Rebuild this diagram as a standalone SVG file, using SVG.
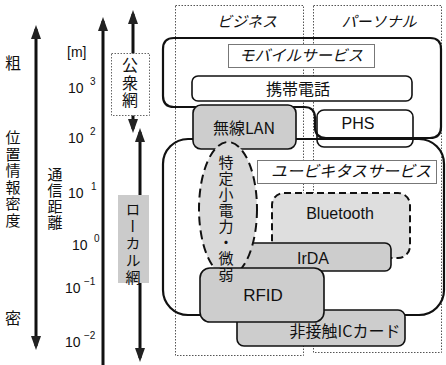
<svg xmlns="http://www.w3.org/2000/svg" width="446" height="365" viewBox="0 0 446 365">
<style>
.jp{font-family:"Noto Sans CJK JP","Noto Sans",sans-serif;fill:#111}
.it{font-style:italic}
.lat{font-family:"Liberation Sans","Noto Sans",sans-serif;fill:#111}
.v{writing-mode:vertical-rl;font-family:"Noto Sans CJK JP",sans-serif;fill:#111}
.col{fill:none;stroke:#555;stroke-width:1;stroke-dasharray:1.5 1.5}
.out{fill:none;stroke:#111;stroke-width:2.2}
.box{stroke:#111;stroke-width:1.6}
.lbl{fill:#fff;stroke:#777;stroke-width:1}
.gray{fill:#cdcdcd}
.ax{stroke:#111;stroke-width:3;fill:none}
</style>
<defs>
<marker id="ah" viewBox="0 0 14 10" refX="10" refY="5" markerWidth="14" markerHeight="10" markerUnits="userSpaceOnUse" orient="auto-start-reverse">
<path d="M0,0 L14,5 L0,10 Z" fill="#222"/>
</marker>
</defs>
<rect width="446" height="365" fill="#fff"/>

<g id="columns">
<rect class="col" x="175.5" y="5.5" width="128" height="350"/>
<rect class="col" x="313.5" y="5.5" width="128" height="347"/>
<text class="jp it" x="247" y="27" font-size="15" text-anchor="middle">ビジネス</text>
<text class="jp it" x="379" y="27" font-size="15" text-anchor="middle">パーソナル</text>
</g>

<g id="axes">
<text class="jp" x="13" y="69" font-size="16" text-anchor="middle">粗</text>
<text class="v" x="13" y="130" font-size="15" style="letter-spacing:1.5px">位置情報密度</text>
<text class="jp" x="13" y="324" font-size="16" text-anchor="middle">密</text>
<line class="ax" x1="36" y1="29" x2="36" y2="346" marker-start="url(#ah)" marker-end="url(#ah)"/>
<text class="v" x="55" y="167" font-size="15" style="letter-spacing:1px">通信距離</text>
<line class="ax" x1="103" y1="21" x2="103" y2="365" marker-start="url(#ah)"/>
<text class="lat" x="67" y="57" font-size="14">[m]</text>
<text class="lat" x="68" y="93" font-size="14">10</text><text class="lat" x="90" y="85" font-size="10">3</text>
<text class="lat" x="68" y="143" font-size="14">10</text><text class="lat" x="90" y="135" font-size="10">2</text>
<text class="lat" x="68" y="198" font-size="14">10</text><text class="lat" x="91" y="190" font-size="10">1</text>
<text class="lat" x="72" y="250" font-size="14">10</text><text class="lat" x="94" y="242" font-size="10">0</text>
<text class="lat" x="65" y="293" font-size="14">10</text><text class="lat" x="84" y="285" font-size="10">−1</text>
<text class="lat" x="65" y="347" font-size="14">10</text><text class="lat" x="84" y="339" font-size="10">−2</text>
</g>

<g id="networks">
<line class="ax" x1="133" y1="14" x2="133" y2="129" marker-start="url(#ah)" marker-end="url(#ah)"/>
<line class="ax" x1="140" y1="132" x2="140" y2="358" marker-start="url(#ah)" marker-end="url(#ah)"/>
<g id="public-net">
<rect x="111.5" y="53.5" width="38" height="62" fill="#fff" stroke="#666" stroke-width="1" stroke-dasharray="1.5 1.5"/>
<text class="v" x="130" y="57" font-size="16" style="letter-spacing:1.5px">公衆網</text>
</g>
<g id="local-net">
<rect x="118" y="195" width="31" height="88" fill="#cbcbcb"/>
<text class="v" x="133" y="201.5" font-size="15">ロ</text>
<text class="jp" x="133" y="226" font-size="15" text-anchor="middle" dominant-baseline="central" transform="rotate(90 133 226)">ー</text>
<text class="v" x="133" y="235.5" font-size="15" style="letter-spacing:2px">カル網</text>
</g>
</g>

<g id="phs"><rect class="box" x="317" y="110" width="96" height="37" rx="7" fill="#fff"/>
<text class="lat" x="358" y="129" font-size="16" text-anchor="middle">PHS</text></g>

<g id="ubiquitous-service">
<rect class="out" x="163" y="139" width="281" height="176" rx="25"/>
</g>
<g id="mobile-service">
<path class="out" d="M174,38 H430 Q441,38 441,49 V127 Q441,138 430,138 H326 Q315,138 315,127 V118 Q315,107 304,107 H174 Q163,107 163,96 V49 Q163,38 174,38 Z"/>
</g>

<g id="keitai"><rect class="box" x="192" y="76" width="220" height="25" rx="6" fill="#fff"/>
<text class="jp" x="298" y="95" font-size="16" text-anchor="middle">携帯電話</text></g>

<g id="wlan"><rect class="box gray" x="193" y="105" width="103" height="44" rx="8"/>
<text class="jp" x="244" y="134" font-size="16" text-anchor="middle">無線LAN</text></g>

<g id="mobile-label"><rect class="lbl" x="228.5" y="44.5" width="146" height="23"/>
<text class="jp it" x="301" y="61" font-size="15.5" text-anchor="middle">モバイルサービス</text></g>

<g id="ubiq-label"><rect class="lbl" x="257.5" y="160.5" width="179" height="23"/>
<text class="jp it" x="351" y="177" font-size="16" text-anchor="middle">ユービキタスサービス</text></g>

<g id="bluetooth"><rect x="272" y="193" width="138" height="65" rx="12" fill="#dedede" stroke="#111" stroke-width="2" stroke-dasharray="7 4"/>
<text class="lat" x="340" y="219" font-size="16" text-anchor="middle">Bluetooth</text></g>

<g id="irda"><rect class="box gray" x="240" y="243" width="151" height="28" rx="6"/>
<text class="lat" x="313" y="264" font-size="16" text-anchor="middle">IrDA</text></g>

<g id="low-power"><ellipse cx="228" cy="209" rx="29" ry="67" fill="#d9d9d9" stroke="#111" stroke-width="2" stroke-dasharray="9 5"/></g>

<g id="ic-card"><rect class="box gray" x="237" y="310" width="168" height="36" rx="7"/>
<text class="jp" x="345" y="337" font-size="16" text-anchor="middle">非接触ICカード</text></g>

<g id="rfid"><rect class="box gray" x="200" y="268" width="124" height="54" rx="10"/>
<text class="lat" x="263" y="301" font-size="17" text-anchor="middle">RFID</text></g>

<text class="v" x="226" y="155" font-size="15" style="letter-spacing:1px">特定小電力・微弱</text>
</svg>
